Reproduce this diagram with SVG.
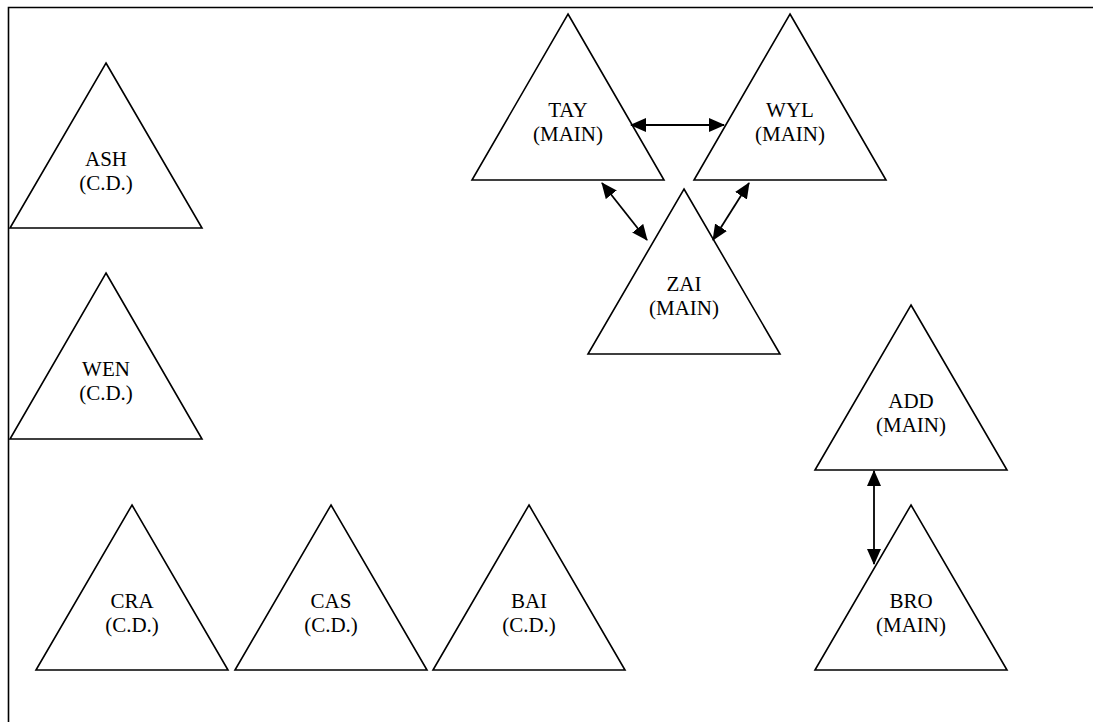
<svg xmlns="http://www.w3.org/2000/svg" width="1093" height="722" viewBox="0 0 1093 722">
<style>
.tri{fill:#fff;stroke:#000;stroke-width:1.6;stroke-linejoin:miter}
.lbl{font-family:"Liberation Serif","Times New Roman",serif;font-size:21px;fill:#000;text-anchor:middle}
.con{stroke:#000;stroke-width:1.8;fill:none;marker-start:url(#ah);marker-end:url(#ah)}
.frame{stroke:#000;stroke-width:1.6;fill:none}
</style>
<defs>
<marker id="ah" markerUnits="userSpaceOnUse" markerWidth="16" markerHeight="14" refX="15" refY="7" orient="auto-start-reverse">
<path d="M0,0 L16,7 L0,14 z" fill="#000"/>
</marker>
</defs>
<rect width="1093" height="722" fill="#fff"/>
<path class="frame" d="M8.5,722 L8.5,7.5 L1093,7.5"/>
<g id="ASH"><polygon class="tri" points="106,63 202,228 10,228"/><text class="lbl" x="106" y="166">ASH</text><text class="lbl" x="106" y="190">(C.D.)</text></g>
<g id="WEN"><polygon class="tri" points="106,273 202,439 10,439"/><text class="lbl" x="106" y="376">WEN</text><text class="lbl" x="106" y="400">(C.D.)</text></g>
<g id="CRA"><polygon class="tri" points="132,505 228,670 36,670"/><text class="lbl" x="132" y="608">CRA</text><text class="lbl" x="132" y="632">(C.D.)</text></g>
<g id="CAS"><polygon class="tri" points="331,505 427,670 235,670"/><text class="lbl" x="331" y="608">CAS</text><text class="lbl" x="331" y="632">(C.D.)</text></g>
<g id="BAI"><polygon class="tri" points="529,505 625,670 433,670"/><text class="lbl" x="529" y="608">BAI</text><text class="lbl" x="529" y="632">(C.D.)</text></g>
<g id="TAY"><polygon class="tri" points="568,14 664,180 472,180"/><text class="lbl" x="568" y="117">TAY</text><text class="lbl" x="568" y="141">(MAIN)</text></g>
<g id="WYL"><polygon class="tri" points="790,14 886,180 694,180"/><text class="lbl" x="790" y="117">WYL</text><text class="lbl" x="790" y="141">(MAIN)</text></g>
<g id="ZAI"><polygon class="tri" points="684,189 780,354 588,354"/><text class="lbl" x="684" y="291">ZAI</text><text class="lbl" x="684" y="315">(MAIN)</text></g>
<g id="ADD"><polygon class="tri" points="911,305 1007,470 815,470"/><text class="lbl" x="911" y="408">ADD</text><text class="lbl" x="911" y="432">(MAIN)</text></g>
<g id="BRO"><polygon class="tri" points="911,505 1007,670 815,670"/><text class="lbl" x="911" y="608">BRO</text><text class="lbl" x="911" y="632">(MAIN)</text></g>
<g id="connectors">
<line class="con" x1="631" y1="125" x2="724" y2="125"/>
<line class="con" x1="602" y1="183" x2="647" y2="240"/>
<line class="con" x1="749" y1="183" x2="713" y2="240"/>
<line class="con" x1="874" y1="471" x2="874" y2="564"/>
</g>
</svg>
